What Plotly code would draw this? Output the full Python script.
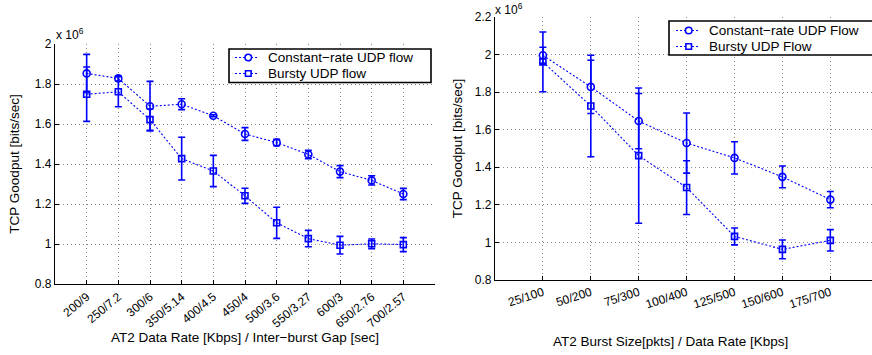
import plotly.graph_objects as go

# ---- Left chart data ----
left_cats = ["200/9", "250/7.2", "300/6", "350/5.14", "400/4.5", "450/4",
             "500/3.6", "550/3.27", "600/3", "650/2.76", "700/2.57"]
left_const = [1.853, 1.828, 1.689, 1.699, 1.641, 1.550, 1.507, 1.448, 1.362, 1.318, 1.250]
left_const_err = [0.095, 0.013, 0.124, 0.027, 0.005, 0.032, 0.016, 0.021, 0.030, 0.023, 0.028]
left_burst = [1.749, 1.761, 1.622, 1.427, 1.365, 1.241, 1.106, 1.027, 0.994, 1.001, 0.997]
left_burst_err = [0.136, 0.075, 0.053, 0.107, 0.078, 0.038, 0.078, 0.041, 0.044, 0.024, 0.035]

# ---- Right chart data ----
right_cats = ["25/100", "50/200", "75/300", "100/400", "125/500", "150/600", "175/700"]
right_const = [1.996, 1.828, 1.646, 1.529, 1.450, 1.349, 1.228]
right_const_err = [0.043, 0.142, 0.147, 0.160, 0.086, 0.058, 0.043]
right_burst = [1.961, 1.726, 1.462, 1.292, 1.032, 0.963, 1.011]
right_burst_err = [0.159, 0.270, 0.360, 0.143, 0.045, 0.050, 0.057]

left_names = ["Constant\u2212rate UDP flow", "Bursty UDP flow"]
right_names = ["Constant\u2212rate UDP Flow", "Bursty UDP Flow"]

left_yticks = [0.8, 1.0, 1.2, 1.4, 1.6, 1.8, 2.0]
left_yticktext = ["0.8", "1", "1.2", "1.4", "1.6", "1.8", "2"]
right_yticks = [0.8, 1.0, 1.2, 1.4, 1.6, 1.8, 2.0, 2.2]
right_yticktext = ["0.8", "1", "1.2", "1.4", "1.6", "1.8", "2", "2.2"]

left_xtitle = "AT2 Data Rate [Kbps] / Inter\u2212burst Gap [sec]"
right_xtitle = "AT2 Burst Size[pkts] / Data Rate [Kbps]"
ytitle = "TCP Goodput [bits/sec]"
exponent_label = "x 10<sup>6</sup>"

BLUE = "#0000ff"
FONT = "Liberation Sans, Arial, Helvetica, sans-serif"
W, H = 872, 355
LINE_DASH = "2px,2px"
TITLE_FONT = dict(family=FONT, size=13.5, color="black")
TICK_FONT = dict(family=FONT, size=12, color="black")

fig = go.Figure()

def add_series(x, y, err, name, symbol, msize, xa, ya):
    fig.add_trace(go.Scatter(
        x=x, y=y, name=name, mode="lines+markers",
        xaxis=xa, yaxis=ya, showlegend=False,
        line=dict(color=BLUE, width=1.1, dash=LINE_DASH),
        marker=dict(symbol=symbol, size=msize, color=BLUE,
                    line=dict(color=BLUE, width=1.6)),
        error_y=dict(type="data", array=err, visible=True,
                     color=BLUE, thickness=1.6, width=3.5),
    ))

lx = list(range(len(left_cats)))
rx = list(range(len(right_cats)))
add_series(lx, left_const, left_const_err, left_names[0], "circle-open", 7, "x", "y")
add_series(lx, left_burst, left_burst_err, left_names[1], "square-open", 6, "x", "y")
add_series(rx, right_const, right_const_err, right_names[0], "circle-open", 7, "x2", "y2")
add_series(rx, right_burst, right_burst_err, right_names[1], "square-open", 6, "x2", "y2")

def px_x(p):
    return p / W

def px_y(p):
    return 1 - p / H

axis_common = dict(
    showline=True, linecolor="black", linewidth=1.2,
    ticks="inside", ticklen=4, tickcolor="black", tickwidth=1,
    showgrid=True, gridcolor="#8a8a8a", griddash="1px,3px", gridwidth=1,
    zeroline=False, mirror=False, automargin=False,
    tickfont=TICK_FONT,
)

fig.update_layout(
    width=W, height=H,
    margin=dict(l=0, r=0, t=0, b=0),
    paper_bgcolor="white", plot_bgcolor="white",
    font=dict(family=FONT, size=12, color="black"),
    showlegend=False,
    xaxis=dict(domain=[px_x(55), px_x(435)], range=[-1, 11],
               tickvals=lx, ticktext=left_cats, tickangle=-40,
               title=dict(text=left_xtitle, font=TITLE_FONT, standoff=2),
               anchor="y", **axis_common),
    yaxis=dict(domain=[px_y(284), px_y(44)], range=[0.8, 2.0],
               tickvals=left_yticks, ticktext=left_yticktext,
               title=dict(text=ytitle, font=TITLE_FONT, standoff=12),
               anchor="x", **axis_common),
    xaxis2=dict(domain=[px_x(495), 1.0], range=[-1, 6.87],
                tickvals=rx, ticktext=right_cats, tickangle=-18,
                anchor="y2", **axis_common),
    yaxis2=dict(domain=[px_y(280), px_y(17)], range=[0.8, 2.2],
                tickvals=right_yticks, ticktext=right_yticktext,
                title=dict(text=ytitle, font=TITLE_FONT, standoff=9),
                anchor="x2", **axis_common),
)

annotations = []
shapes = []

def ann(text, x, y, size=13.5, xanchor="center", yanchor="middle", angle=0, pad=1):
    annotations.append(dict(text=text, x=px_x(x), y=px_y(y), xref="paper", yref="paper",
                            xanchor=xanchor, yanchor=yanchor, textangle=angle, borderpad=pad,
                            showarrow=False, font=dict(family=FONT, size=size, color="black")))

ann(exponent_label, 55, 25, size=12, xanchor="left", yanchor="top", pad=0)
ann(exponent_label, 494, 0, size=12, xanchor="left", yanchor="top", pad=0)
ann(right_xtitle, 670, 341)

def legend_box(x0, y0, x1, y1, names, row_y, marker_x, line_x0, line_x1, text_x):
    shapes.append(dict(type="rect", xref="paper", yref="paper",
                       x0=px_x(x0), x1=px_x(x1), y0=px_y(y1), y1=px_y(y0),
                       line=dict(color="black", width=1.6), fillcolor="white", layer="above"))
    for i, (name, ry) in enumerate(zip(names, row_y)):
        shapes.append(dict(type="line", xref="paper", yref="paper",
                           x0=px_x(line_x0), x1=px_x(line_x1), y0=px_y(ry), y1=px_y(ry),
                           line=dict(color=BLUE, width=1.1, dash=LINE_DASH), layer="above"))
        if i == 0:
            r = 3.3
            shapes.append(dict(type="circle", xref="paper", yref="paper",
                               x0=px_x(marker_x - r), x1=px_x(marker_x + r),
                               y0=px_y(ry + r), y1=px_y(ry - r),
                               line=dict(color=BLUE, width=1.6), fillcolor="white", layer="above"))
        else:
            r = 2.8
            shapes.append(dict(type="rect", xref="paper", yref="paper",
                               x0=px_x(marker_x - r), x1=px_x(marker_x + r),
                               y0=px_y(ry + r), y1=px_y(ry - r),
                               line=dict(color=BLUE, width=1.6), fillcolor="white", layer="above"))
        ann(name, text_x, ry, size=13.5, xanchor="left")

legend_box(229, 49, 431, 82.5, left_names, [57.5, 73.5], 248.3, 235, 257, 266)
legend_box(669, 21, 874, 55, right_names, [30.5, 46.5], 688.7, 676, 700, 707)

fig.update_layout(annotations=annotations, shapes=shapes)

fig.write_html("out.html")
